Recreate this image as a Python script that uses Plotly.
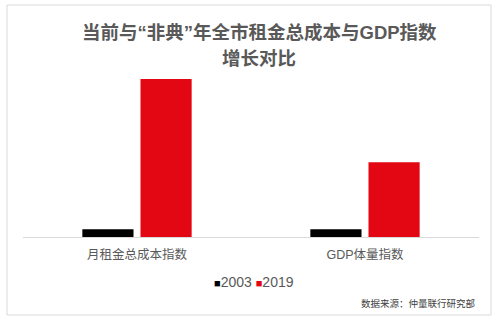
import plotly.graph_objects as go

categories = ["月租金总成本指数", "GDP体量指数"]
series_names = ["2003", "2019"]
values_2003 = [1.0, 1.0]
values_2019 = [20.5, 9.7]
title_lines = ["当前与“非典”年全市租金总成本与GDP指数", "增长对比"]
source_text = "数据来源：仲量联行研究部"

FONT = "Arial, 'Liberation Sans', 'Noto Sans CJK SC', sans-serif"
GRAY = "#595959"
COLORS = ["#000000", "#E30613"]

W, H = 500, 326
L, R, T, B = 23, 21, 70, 89
pw, ph = W - L - R, H - T - B

def px(x):
    return (x - L) / pw

def py(y):
    return (H - B - y) / ph

fig = go.Figure()
for name, vals, col in zip(series_names, [values_2003, values_2019], COLORS):
    fig.add_trace(go.Bar(x=categories, y=vals, name=name,
                         marker=dict(color=col, line=dict(width=0))))

legend_text = "".join(
    "<span style='color:%s;font-size:11px'>■</span>%s%s" % (c, n, " " if i == 0 else "")
    for i, (n, c) in enumerate(zip(series_names, COLORS))
)

fig.update_layout(
    width=W, height=H,
    margin=dict(l=L, r=R, t=T, b=B),
    paper_bgcolor="white", plot_bgcolor="white",
    barmode="group", bargap=0.49, bargroupgap=0.12,
    font=dict(family=FONT, color=GRAY),
    showlegend=False,
    xaxis=dict(showline=True, linecolor="#d9d9d9", linewidth=1, ticks="",
               ticklabelstandoff=6,
               tickfont=dict(size=12.5, color=GRAY), showgrid=False, zeroline=False),
    yaxis=dict(range=[0, 20.5 * ph / 158], visible=False, showgrid=False, zeroline=False),
    shapes=[dict(type="rect", xref="paper", yref="paper",
                 x0=px(7), x1=px(491), y0=py(315), y1=py(5),
                 line=dict(color="#d9d9d9", width=1), fillcolor="rgba(0,0,0,0)", layer="below")],
    annotations=[
        dict(text="<b>%s</b>" % title_lines[0], x=px(259), y=py(33), xref="paper", yref="paper",
             xanchor="center", yanchor="middle", showarrow=False,
             font=dict(size=18.5, color=GRAY, family=FONT)),
        dict(text="<b>%s</b>" % title_lines[1], x=px(259), y=py(58), xref="paper", yref="paper",
             xanchor="center", yanchor="middle", showarrow=False,
             font=dict(size=18.5, color=GRAY, family=FONT)),
        dict(text=legend_text, x=px(254), y=py(282), xref="paper", yref="paper",
             xanchor="center", yanchor="middle", showarrow=False,
             font=dict(size=14, color=GRAY, family=FONT)),
        dict(text=source_text, x=px(477), y=py(303), xref="paper", yref="paper",
             xanchor="right", yanchor="middle", showarrow=False,
             font=dict(size=9.5, color="#404040", family=FONT)),
    ],
)

fig.write_html("out.html")
